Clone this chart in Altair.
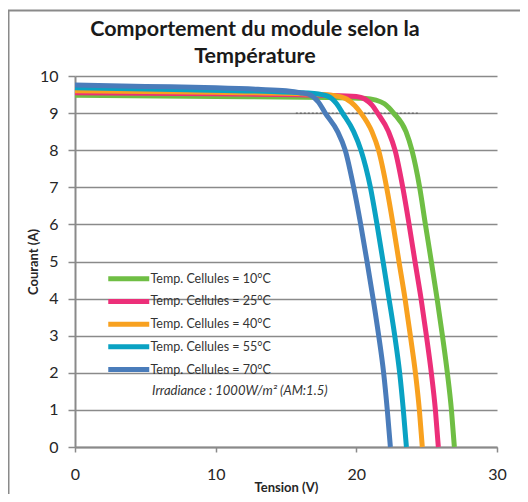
import altair as alt
import pandas as pd

# ---- data ----
series_names = [
    "Temp. Cellules = 10°C",
    "Temp. Cellules = 25°C",
    "Temp. Cellules = 40°C",
    "Temp. Cellules = 55°C",
    "Temp. Cellules = 70°C",
]
series_colors = ["#6fbe44", "#ec2f79", "#f8a11f", "#0aa2c3", "#4a7cba"]

v_10 = [0, 10, 18, 20.5, 21.4, 22.0, 22.65, 23.53, 23.95, 24.5, 24.91, 25.33, 25.74, 26.12, 26.47, 26.76, 26.97]
i_10 = [9.48, 9.45, 9.42, 9.40, 9.35, 9.25, 9.0, 8.5, 8.0, 7.0, 6.0, 5.0, 4.0, 3.0, 2.0, 1.0, 0.0]

v_25 = [0, 10, 18, 20.0, 20.6, 21.1, 21.51, 22.29, 22.75, 23.3, 23.75, 24.17, 24.6, 24.98, 25.33, 25.62, 25.83]
i_25 = [9.55, 9.52, 9.48, 9.45, 9.38, 9.22, 9.0, 8.5, 8.0, 7.0, 6.0, 5.0, 4.0, 3.0, 2.0, 1.0, 0.0]

v_40 = [0, 10, 17, 18.5, 19.3, 19.9, 20.33, 21.11, 21.58, 22.15, 22.61, 23.03, 23.46, 23.84, 24.2, 24.48, 24.69]
i_40 = [9.60, 9.56, 9.51, 9.47, 9.38, 9.2, 9.0, 8.5, 8.0, 7.0, 6.0, 5.0, 4.0, 3.0, 2.0, 1.0, 0.0]

v_55 = [0, 8, 14, 17, 18.0, 18.6, 19.02, 19.81, 20.33, 21.0, 21.47, 21.9, 22.32, 22.73, 23.08, 23.34, 23.56]
i_55 = [9.68, 9.63, 9.58, 9.53, 9.45, 9.25, 9.0, 8.5, 8.0, 7.0, 6.0, 5.0, 4.0, 3.0, 2.0, 1.0, 0.0]

v_70 = [0, 5, 10, 13, 15, 16, 16.65, 17.3, 17.79, 18.67, 19.21, 19.81, 20.31, 20.76, 21.19, 21.59, 21.94, 22.2, 22.42]
i_70 = [9.76, 9.72, 9.68, 9.64, 9.60, 9.55, 9.5, 9.3, 9.0, 8.5, 8.0, 7.0, 6.0, 5.0, 4.0, 3.0, 2.0, 1.0, 0.0]

volts = [v_10, v_25, v_40, v_55, v_70]
amps = [i_10, i_25, i_40, i_55, i_70]

x_ticks = [0, 10, 20, 30]
y_ticks = [0, 1, 2, 3, 4, 5, 6, 7, 8, 9, 10]

dotted_start = [15.7]
dotted_end = [24.4]
dotted_level = [9]

note_text = ["Irradiance : 1000W/m² (AM:1.5)"]
title_text = ["Comportement du module selon la\nTempérature"]

# ---- tables ----
rows = []
for name, vs, cs in zip(series_names, volts, amps):
    for v, c in zip(vs, cs):
        rows.append({"serie": name, "tension": v, "courant": c})
df = pd.DataFrame(rows)

dots = pd.DataFrame({"x1": dotted_start, "x2": dotted_end, "lvl": dotted_level})
note = pd.DataFrame({"label": note_text})
ttl = pd.DataFrame({"label": title_text})
one = pd.DataFrame({"k": [0]})

FONT = "Lato"
GRAY = "#8a8a8a"
x_scale = alt.Scale(domain=[0, 30], nice=False)
y_scale = alt.Scale(domain=[0, 10], nice=False)

x_axis = alt.Axis(
    values=x_ticks, title="Tension (V)", grid=False, tickSize=5, labelFlush=False,
    labelPadding=14, titlePadding=-1, labelFontSize=16, titleFontSize=13,
)
y_axis = alt.Axis(
    values=y_ticks, title="Courant (A)", grid=True, tickSize=7, labelFlush=False,
    labelPadding=10, titlePadding=-1, labelFontSize=16, titleFontSize=13,
)

frame_left = alt.Chart(one).mark_rule(color=GRAY, strokeWidth=2).encode(
    x=alt.value(-66.5), y=alt.value(-66), y2=alt.value(430)
)
frame_top = alt.Chart(one).mark_rule(color=GRAY, strokeWidth=2).encode(
    x=alt.value(-67), x2=alt.value(460), y=alt.value(-65.5)
)

dotted = alt.Chart(dots).mark_rule(color="#555555", strokeWidth=1, strokeDash=[2, 2]).encode(
    x=alt.X("x1:Q", scale=x_scale, axis=x_axis),
    x2="x2:Q",
    y=alt.Y("lvl:Q", scale=y_scale, axis=y_axis),
)

lines = alt.Chart(df).mark_line(strokeWidth=5, interpolate="monotone").encode(
    x=alt.X("tension:Q", scale=x_scale, axis=x_axis),
    y=alt.Y("courant:Q", scale=y_scale, axis=y_axis),
    color=alt.Color(
        "serie:N",
        scale=alt.Scale(domain=series_names, range=series_colors),
        legend=alt.Legend(
            title=None, orient="none", legendX=47.5, legendY=196.5,
            symbolType="M-6.83,0H6.83", symbolSize=36, symbolStrokeWidth=5,
            symbolOffset=0, labelOffset=15.5, rowPadding=1.7, padding=0,
            labelFont=FONT, labelFontSize=12.5, labelColor="#333333",
        ),
    ),
)

note_layer = alt.Chart(note).mark_text(
    align="left", baseline="middle", fontStyle="italic", fontSize=13,
    font=FONT, color="#333333",
).encode(x=alt.value(77), y=alt.value(315), text="label:N")

title_layer = alt.Chart(ttl).mark_text(
    align="center", baseline="alphabetic", fontWeight="bold", fontSize=21.5,
    font=FONT, color="#1a1a1a", lineBreak="\n", lineHeight=27,
).encode(x=alt.value(180), y=alt.value(-40), text="label:N")

chart = alt.layer(frame_left, frame_top, dotted, lines, note_layer, title_layer).properties(
    width=422,
    height=371,
    background="white",
    autosize=alt.AutoSizeParams(type="none"),
    padding={"left": 67, "top": 68, "right": 23, "bottom": 47},
).configure_view(stroke=None).configure_axis(
    domainColor=GRAY, domainWidth=2, tickColor=GRAY, tickWidth=1.5,
    gridColor=GRAY, gridWidth=1.5, gridOpacity=1,
    labelFont=FONT, labelColor="#262626", titleFont=FONT, titleColor="#262626",
    titleFontWeight="bold",
)

chart.save("out.html", embed_options={"renderer": "svg", "actions": False})
